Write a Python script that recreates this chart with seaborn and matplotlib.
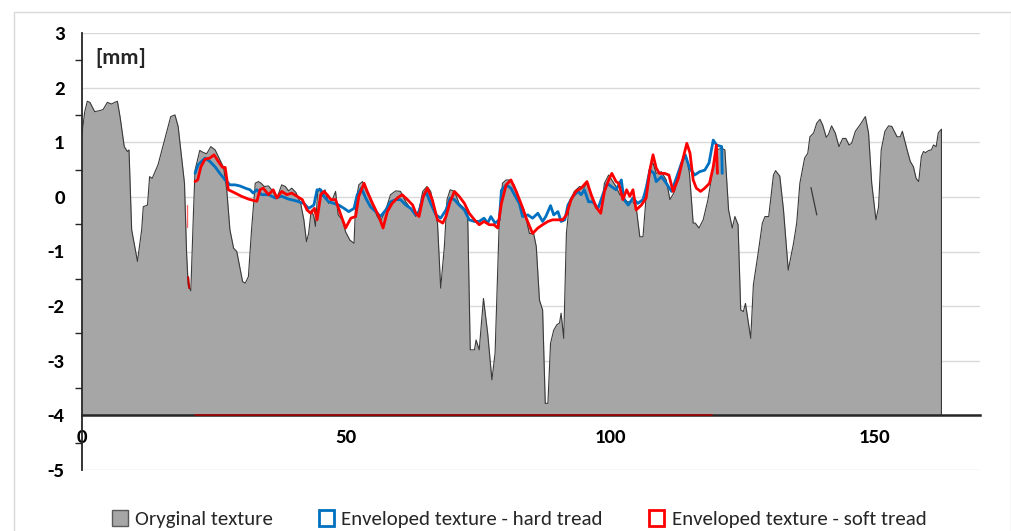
import numpy as np
import pandas as pd
import matplotlib
matplotlib.use("Agg")
import matplotlib.pyplot as plt
from matplotlib.patches import Patch, Rectangle
from matplotlib.ticker import MultipleLocator
import seaborn as sns

# ---------------- data ----------------
orig_x = [0.0, 0.5, 1.0, 1.5, 2.4, 3.4, 4.0, 4.8, 5.6, 6.2, 6.7, 7.2, 8.0, 8.6, 8.9,
          9.4, 10.5, 11.3, 11.6, 12.4, 12.8, 13.3, 14.4, 15.8, 16.8, 17.6, 18.2, 19.4,
          19.8, 20.1, 20.6, 21.1, 21.4, 22.3, 23.0, 23.6, 24.4, 25.2, 25.8, 26.8, 27.4,
          28.0, 28.7, 29.3, 30.4, 30.9, 31.5, 32.1, 32.8, 33.4, 33.9, 34.5, 35.3, 35.9,
          36.9, 37.8, 38.5, 39.1, 39.7, 40.5, 41.4, 42.0, 42.5, 42.9, 43.4, 43.9, 44.2,
          44.6, 45.0, 45.5, 46.0, 46.7, 47.4, 48.0, 48.5, 49.3, 49.9, 50.7, 51.5, 51.8,
          52.4, 53.1, 53.7, 54.6, 55.9, 56.5, 57.5, 58.4, 59.4, 60.3, 61.3, 62.2, 63.2,
          63.8, 64.5, 65.3, 66.0, 66.7, 67.3, 67.9, 68.6, 69.1, 69.7, 70.5, 71.4, 72.4,
          73.0, 73.5, 74.3, 74.6, 75.2, 76.0, 76.8, 77.6, 78.2, 79.0, 79.6, 80.3, 80.9,
          81.8, 82.8, 83.7, 84.7, 85.5, 86.0, 86.6, 87.2, 87.7, 88.2, 88.7, 89.3, 89.9,
          90.4, 90.7, 91.2, 91.7, 92.3, 93.2, 94.2, 95.0, 95.6, 96.4, 97.3, 98.2, 98.9,
          99.7, 100.5, 101.1, 101.8, 102.4, 103.2, 104.3, 104.9, 105.6, 106.2, 106.8,
          107.5, 108.1, 108.7, 109.7, 110.6, 111.3, 112.2, 113.1, 113.8, 114.4, 115.0,
          115.7, 116.1, 116.8, 117.6, 118.5, 119.2, 120.1, 121.1, 121.7, 122.4, 123.1,
          123.6, 124.2, 124.7, 125.2, 125.6, 126.6, 127.1, 128.0, 128.8, 129.3, 130.0,
          130.9, 131.3, 132.1, 132.8, 133.7, 134.7, 135.3, 135.9, 136.8, 137.4, 137.8,
          138.5, 139.1, 139.7, 140.2, 140.9, 141.3, 141.9, 142.6, 143.3, 144.0, 144.6,
          145.2, 145.7, 146.4, 147.3, 148.3, 148.9, 149.5, 150.3, 150.8, 151.3, 152.0,
          152.7, 153.3, 154.3, 154.9, 155.3, 156.2, 156.8, 157.4, 157.9, 158.4, 158.9,
          159.3, 159.7, 160.3, 160.8, 161.2, 161.7, 162.1, 162.7]
orig_y = [1.15, 1.55, 1.75, 1.73, 1.56, 1.58, 1.60, 1.73, 1.70, 1.73, 1.75, 1.47, 0.92, 0.83, 0.86,
          -0.60, -1.18, -0.60, -0.18, -0.15, 0.37, 0.34, 0.59, 1.10, 1.47, 1.50, 1.29, 0.25,
          -1.03, -1.61, -1.72, -0.29, 0.49, 0.85, 0.81, 0.79, 0.92, 0.86, 0.74, 0.54, 0.13,
          -0.60, -0.94, -1.00, -1.55, -1.58, -1.46, -0.60, 0.25, 0.28, 0.25, 0.19, 0.20, 0.13,
          -0.02, 0.22, 0.19, 0.11, 0.16, 0.08, -0.12, -0.42, -0.82, -0.67, -0.24, -0.36, -0.54,
          0.07, 0.16, 0.01, 0.13, -0.12, -0.05, 0.10, -0.33, -0.42, -0.64, -0.79, -0.85, -0.12,
          0.22, 0.28, 0.13, -0.05, -0.36, -0.45, -0.24, 0.04, 0.11, 0.10, -0.09, -0.21, -0.36,
          -0.24, 0.10, 0.19, 0.10, -0.18, -0.48, -1.67, -0.91, -0.05, 0.13, 0.10, -0.12, -0.21,
          -0.27, -2.80, -2.80, -2.62, -2.80, -1.86, -2.50, -3.35, -2.86, -0.42, 0.25, 0.31, 0.31,
          0.22, -0.05, -0.24, -0.67, -0.67, -0.91, -1.89, -2.07, -3.78, -3.78, -2.68, -2.44, -2.34,
          -2.31, -2.13, -2.59, -0.67, -0.09, 0.10, 0.19, 0.16, 0.25, 0.01, -0.21, -0.27, 0.25,
          0.40, 0.28, 0.19, 0.04, 0.01, -0.09, -0.09, -0.18, -0.73, -0.73, 0.01,
          0.55, 0.62, 0.43, 0.46, 0.31, -0.05, 0.10, 0.43, 0.68, 0.74, 0.43,
          -0.48, -0.48, -0.57, -0.42, -0.05, 0.37, 0.86, 0.89, 0.86, -0.24, -0.57,
          -0.36, -0.51, -2.07, -2.10, -1.95, -2.59, -1.61, -1.03, -0.48, -0.36, -0.36,
          0.40, 0.48, 0.38, -0.24, -1.34, -0.85, -0.48, 0.25, 0.71, 0.80, 1.10,
          1.17, 1.35, 1.42, 1.32, 1.09, 1.14, 1.30, 1.17, 0.92, 1.07, 1.07,
          0.95, 0.98, 1.20, 1.32, 1.47, 1.17, 0.25, -0.42, -0.18, 0.86, 1.20,
          1.30, 1.29, 1.10, 1.10, 1.20, 0.86, 0.65, 0.55, 0.34, 0.28, 0.74,
          0.83, 0.81, 0.85, 0.86, 0.95, 0.92, 1.17, 1.24]

hard_x = [21.4, 22.0, 23.3, 24.2, 25.2, 26.1, 27.1, 28.0, 29.0, 29.9, 30.9, 31.8, 32.4, 33.1,
          34.0, 35.3, 36.6, 37.8, 39.1, 40.4, 42.0, 42.9, 43.9, 44.5, 45.2, 45.8, 46.7, 47.7,
          48.6, 49.6, 50.5, 51.5, 52.1, 52.9, 53.7, 54.6, 55.6, 56.5, 57.5, 58.4, 59.4, 60.3,
          61.3, 62.2, 63.2, 63.8, 64.5, 65.1, 66.0, 67.0, 67.9, 68.9, 69.7, 70.5, 71.4, 72.4,
          73.3, 74.3, 75.2, 76.1, 76.8, 77.4, 78.2, 79.0, 79.4, 80.3, 81.2, 82.2, 82.8, 83.4,
          84.4, 85.3, 86.3, 87.2, 87.8, 88.7, 89.3, 90.1, 90.7, 91.4, 92.0, 92.9, 93.9, 94.5,
          95.1, 95.9, 96.7, 97.7, 98.6, 99.4, 100.2, 101.1, 102.1, 102.6, 103.4, 104.3, 105.2,
          106.2, 106.8, 107.5, 108.3, 108.7, 109.7, 110.6, 111.6, 112.5, 113.5, 114.2, 115.0,
          116.0, 116.9, 117.9, 118.7, 119.5, 120.1, 121.1, 121.2]
hard_y = [0.43, 0.59, 0.71, 0.65, 0.55, 0.43, 0.31, 0.22, 0.22, 0.20, 0.16, 0.13, 0.07, 0.13,
          0.04, 0.04, -0.02, 0.01, -0.04, -0.07, -0.12, -0.21, -0.15, 0.13, 0.13, 0.01, -0.09, -0.12,
          -0.15, -0.21, -0.27, -0.21, 0.04, 0.16, -0.02, -0.18, -0.27, -0.36, -0.24, -0.09, -0.05, -0.05,
          -0.15, -0.21, -0.33, -0.27, -0.02, 0.10, -0.12, -0.33, -0.39, -0.24, -0.02, -0.05, -0.15, -0.24,
          -0.42, -0.45, -0.45, -0.39, -0.48, -0.36, -0.48, -0.42, 0.12, 0.22, 0.16, -0.02, -0.12, -0.36,
          -0.33, -0.39, -0.30, -0.45, -0.36, -0.16, -0.33, -0.27, -0.45, -0.42, -0.15, 0.01, 0.10, 0.04,
          0.13, -0.09, -0.09, -0.21, 0.04, 0.25, 0.19, 0.13, 0.31, -0.05, -0.15, -0.02, -0.12,
          -0.05, 0.16, 0.49, 0.43, 0.28, 0.37, 0.25, 0.10, 0.34, 0.62, 0.77, 0.53,
          0.40, 0.46, 0.49, 0.62, 1.04, 0.95, 0.92, 0.43]

soft_x = [21.4, 21.9, 22.5, 23.3, 24.2, 25.0, 25.8, 26.6, 27.1, 27.7, 29.0, 30.2, 31.5, 32.6,
          33.1, 33.7, 34.3, 35.3, 36.2, 36.9, 37.8, 38.8, 39.7, 40.7, 41.7, 42.6, 43.3, 44.0,
          44.5, 45.2, 45.8, 46.4, 47.1, 48.0, 49.0, 49.9, 50.9, 51.8, 52.4, 53.4, 54.0, 55.0,
          56.2, 57.0, 57.8, 58.7, 59.7, 60.6, 61.6, 62.6, 63.2, 63.8, 64.6, 65.4, 66.3, 67.3,
          68.3, 68.9, 69.7, 70.5, 71.4, 72.4, 73.3, 74.3, 75.2, 76.1, 77.1, 78.0, 78.7, 79.4,
          80.3, 81.2, 82.2, 83.1, 84.1, 85.3, 86.3, 87.2, 88.2, 89.1, 90.1, 91.0, 91.7, 92.6,
          93.5, 94.5, 95.6, 96.4, 97.3, 98.2, 98.9, 99.7, 100.3, 101.1, 101.6, 102.4, 103.1,
          103.7, 104.3, 104.9, 105.9, 106.8, 107.5, 108.1, 108.7, 109.3, 110.3, 111.1, 111.9,
          112.9, 113.8, 114.5, 115.1, 115.7, 116.3, 117.1, 117.9, 118.8, 119.5, 120.1, 120.3]
soft_y = [0.28, 0.31, 0.55, 0.69, 0.71, 0.77, 0.65, 0.54, 0.54, 0.13, 0.07, 0.01, -0.04, -0.07,
          -0.08, 0.13, 0.16, 0.04, 0.13, -0.02, 0.10, 0.04, 0.07, 0.01, -0.05, -0.24, -0.30, -0.21,
          -0.42, 0.04, 0.10, 0.04, -0.05, -0.05, -0.33, -0.57, -0.39, -0.36, 0.01, 0.25, 0.10, -0.12,
          -0.36, -0.57, -0.27, -0.12, -0.02, 0.04, -0.05, -0.15, -0.30, -0.36, 0.01, 0.16, -0.05, -0.42,
          -0.48, -0.36, -0.09, 0.10, 0.01, -0.12, -0.30, -0.42, -0.51, -0.45, -0.51, -0.51, -0.57, -0.12,
          0.22, 0.31, 0.10, -0.12, -0.39, -0.67, -0.57, -0.51, -0.45, -0.42, -0.42, -0.42, -0.33, -0.05,
          0.10, 0.16, 0.28, 0.04, -0.18, -0.30, 0.10, 0.31, 0.43, 0.28, 0.25, -0.05, 0.13,
          0.01, 0.13, -0.24, -0.15, -0.02, 0.49, 0.77, 0.53, 0.43, 0.43, 0.40, 0.10,
          0.34, 0.71, 0.98, 0.80, 0.31, 0.16, 0.10, 0.16, 0.25, 0.55, 0.95, 0.43]

# small stray segments visible in the reference
stray_black_x = [138.0, 139.1]
stray_black_y = [0.17, -0.33]
stray_red_x = [19.9, 19.9]
stray_red_y = [-0.15, -0.55]
soft_start_x = [20.1, 20.3]
soft_start_y = [-1.47, -1.67]
soft_base_x = [21.4, 119.2]
soft_base_y = [-4.0, -4.0]

y_ticks = [-5, -4, -3, -2, -1, 0, 1, 2, 3]
x_ticks = [0, 50, 100, 150]
legend_labels = ["Oryginal texture", "Enveloped texture - hard tread",
                 "Enveloped texture - soft tread"]
unit_label = "[mm]"

# ---------------- style ----------------
sns.set_theme(style="white")
plt.rcParams["font.family"] = ["Carlito", "Liberation Sans Narrow", "Liberation Sans", "DejaVu Sans"]
plt.rcParams["font.weight"] = "bold"

GREY = "#a6a6a6"
BLUE = "#0070c0"
RED = "#ff0000"
GRID = "#d9d9d9"
BASE = -4.0

fig = plt.figure(figsize=(10.12, 5.31), dpi=100)
fig.patch.set_facecolor("white")
# chart border
fig.add_artist(Rectangle((14 / 1012, -0.1), (1011 - 14) / 1012, 1.1 - 12 / 531,
                         transform=fig.transFigure, fill=False, edgecolor=GRID, lw=1))

ax = fig.add_axes([82 / 1012, 1 - 470 / 531, (980 - 82) / 1012, (470 - 33) / 531])
ax.set_xlim(0, 170)
ax.set_ylim(-5, 3)

# gridlines
for yt in y_ticks:
    ax.axhline(yt, color=GRID, lw=1.0, zorder=0)

# original texture (area)
ax.fill_between(orig_x, orig_y, BASE, color=GREY, lw=0, zorder=1)
outline = pd.DataFrame({"x": orig_x + [orig_x[-1]], "y": orig_y + [BASE]})
sns.lineplot(data=outline, x="x", y="y", sort=False, estimator=None, ax=ax,
             color="#3a3a3a", lw=0.8, zorder=2)
sns.lineplot(x=stray_black_x, y=stray_black_y, sort=False, estimator=None, ax=ax,
             color="#3a3a3a", lw=0.9, zorder=2)

# enveloped textures
df_hard = pd.DataFrame({"x": hard_x, "y": hard_y})
df_soft = pd.DataFrame({"x": soft_x, "y": soft_y})
sns.lineplot(data=df_hard, x="x", y="y", sort=False, estimator=None, ax=ax,
             color=BLUE, lw=2.0, zorder=3)
sns.lineplot(data=df_soft, x="x", y="y", sort=False, estimator=None, ax=ax,
             color=RED, lw=2.0, zorder=4)
sns.lineplot(x=stray_red_x, y=stray_red_y, sort=False, estimator=None, ax=ax,
             color=RED, lw=1.0, alpha=0.6, zorder=4)
sns.lineplot(x=soft_start_x, y=soft_start_y, sort=False, estimator=None, ax=ax,
             color="#c00000", lw=1.5, zorder=4)
sns.lineplot(x=soft_base_x, y=soft_base_y, sort=False, estimator=None, ax=ax,
             color="#b00000", lw=1.1, zorder=6, clip_on=False)

ax.set_xlabel("")
ax.set_ylabel("")

# spines
for s in ["top", "right"]:
    ax.spines[s].set_visible(False)
ax.spines["bottom"].set_position(("data", BASE))
ax.spines["bottom"].set_color("#262626")
ax.spines["bottom"].set_linewidth(1.8)
ax.spines["bottom"].set_zorder(5)
ax.spines["left"].set_color("#262626")
ax.spines["left"].set_linewidth(1.3)

ax.set_xticks(x_ticks)
ax.set_xticklabels([str(v) for v in x_ticks])
ax.set_yticks(y_ticks)
ax.set_yticklabels([str(v) for v in y_ticks])
ax.yaxis.set_minor_locator(MultipleLocator(0.5))
ax.tick_params(axis="x", which="major", direction="inout", length=10, width=1.2,
               color="#262626", labelsize=15, pad=5)
ax.tick_params(axis="y", which="major", direction="inout", length=11, width=1.2,
               color="#262626", labelsize=15, pad=7)
ax.tick_params(axis="y", which="minor", direction="out", length=5, width=1.0,
               color="#262626", left=True)
for lab in ax.get_xticklabels() + ax.get_yticklabels():
    lab.set_fontweight("bold")
    lab.set_color("black")
ax.get_xticklabels()[0].set_bbox(dict(facecolor="white", edgecolor="none", pad=1))

ax.text(2.5, 2.55, unit_label, fontsize=16, fontweight="bold", va="center", ha="left")

# legend
handles = [Patch(facecolor=GREY, edgecolor="#595959", lw=1.0),
           Patch(facecolor="white", edgecolor=BLUE, lw=2.0),
           Patch(facecolor="white", edgecolor=RED, lw=2.0)]
leg = fig.legend(handles, legend_labels, loc="center", bbox_to_anchor=(0.513, 0.022),
                 ncol=3, frameon=False, handlelength=0.75, handleheight=0.75,
                 handletextpad=0.35, columnspacing=2.2,
                 prop={"size": 15, "weight": "normal"})

fig.savefig("out.png", dpi=100, facecolor="white")
